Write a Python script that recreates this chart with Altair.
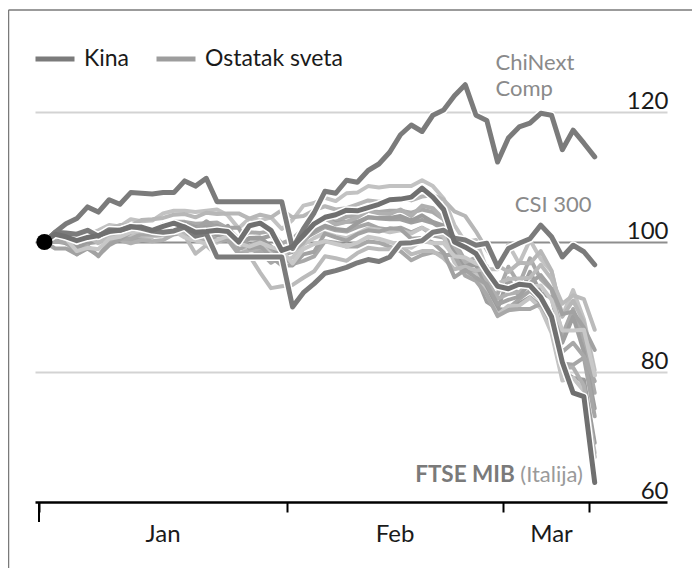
import altair as alt
import pandas as pd

# trading days (weekday index, 0 = 1 Jan 2020 base)
day = list(range(52))

chinext = [100, 101.5, 102.8, 103.6, 105.4, 104.6, 106.5, 105.8, 107.6, 107.5,
           107.4, 107.6, 107.6, 109.4, 108.6, 109.8, 106.2, 106.2, 106.2, 106.2,
           106.2, 106.2, 106.2, 99.0, 102.0, 104.5, 107.8, 107.5, 109.5, 109.2,
           111.0, 112.0, 113.8, 116.5, 118.0, 117.0, 119.5, 120.3, 122.5, 124.2,
           119.5, 118.7, 112.3, 116.0, 117.7, 118.3, 119.8, 119.5, 114.2, 117.2,
           115.2, 113.1]
csi300 = [100, 101.5, 101.4, 101.2, 101.8, 100.9, 101.9, 101.8, 102.4, 102.1,
          101.7, 101.5, 101.7, 102.3, 100.9, 101.3, 97.7, 97.7, 97.7, 97.7,
          97.7, 97.7, 97.7, 90.0, 92.2, 93.6, 95.2, 95.6, 96.1, 96.8,
          97.3, 97.0, 97.7, 99.8, 99.9, 100.2, 101.5, 101.8, 100.6, 100.3,
          99.5, 99.8, 96.2, 99.0, 99.8, 100.5, 102.6, 100.8, 97.7, 99.5,
          98.5, 96.5]
ftse_mib = [100, 101.2, 100.8, 100.2, 100.7, 101.0, 101.6, 101.8, 102.3, 102.3,
            101.8, 102.4, 102.9, 102.3, 101.5, 101.6, 101.8, 101.6, 100.0, 102.5,
            102.9, 101.8, 98.7, 99.3, 101.0, 102.8, 103.8, 104.2, 104.9, 104.8,
            105.3, 105.8, 106.5, 106.6, 106.9, 108.3, 106.9, 105.0, 100.0, 99.2,
            98.2, 95.5, 93.2, 92.8, 93.5, 93.3, 91.5, 88.5, 81.5, 76.8,
            76.2, 63.0]

nasdaq = [100, 101.3, 100.5, 101.1, 101.1, 101.8, 102.6, 102.4, 103.5, 103.2,
          103.3, 104.4, 104.8, 104.8, 104.6, 104.8, 105.0, 104.1, 102.1, 103.6,
          103.3, 103.8, 102.0, 103.4, 105.6, 106.0, 106.8, 106.3, 107.5, 107.6,
          108.6, 108.4, 108.6, 108.6, 108.6, 109.5, 108.6, 106.7, 102.6, 100.0,
          100.3, 95.8, 95.8, 99.6, 96.7, 100.3, 97.4, 95.5, 88.6, 92.6,
          88.1, 80.3]
sp500 = [100, 100.8, 100.1, 100.5, 100.2, 100.7, 101.4, 101.1, 101.8, 101.6,
         101.8, 102.7, 103.1, 103.1, 102.8, 102.9, 103.0, 102.1, 100.5, 101.5,
         101.4, 101.7, 99.8, 100.5, 102.0, 103.2, 103.6, 103.1, 103.9, 104.1,
         104.8, 104.6, 104.8, 104.8, 104.5, 105.0, 104.6, 103.5, 100.1, 97.1,
         96.7, 92.5, 92.0, 96.2, 93.5, 97.5, 94.3, 92.7, 85.7, 89.7,
         85.0, 76.8]
dow = [100, 100.9, 100.2, 100.5, 100.1, 100.7, 101.4, 100.9, 101.4, 101.5,
       101.8, 102.7, 102.9, 102.9, 102.3, 102.4, 102.5, 101.5, 99.9, 100.5,
       100.5, 101.0, 98.9, 99.7, 101.2, 102.9, 103.8, 102.9, 103.1, 103.1,
       103.8, 103.6, 103.5, 103.5, 103.0, 103.4, 102.9, 101.9, 98.4, 95.4,
       94.9, 90.8, 89.7, 94.4, 91.6, 95.4, 92.2, 91.4, 84.5, 88.5,
       83.1, 74.4]
asx200 = [100, 100.1, 100.7, 100.6, 101.6, 101.3, 102.0, 102.6, 102.5, 103.4,
          103.5, 103.7, 104.2, 104.3, 103.8, 104.5, 104.3, 104.4, 104.4, 103.6,
          104.2, 103.8, 104.9, 103.8, 104.0, 104.9, 105.5, 105.0, 105.2, 105.8,
          106.4, 106.2, 106.5, 106.8, 106.4, 107.0, 107.2, 106.5, 104.7, 104.0,
          101.6, 98.8, 96.4, 95.4, 96.8, 96.7, 98.6, 95.6, 88.5, 91.0,
          87.6, 79.5]
ftse100 = [100, 100.1, 99.8, 99.2, 99.8, 100.0, 100.8, 100.4, 100.0, 100.8,
           100.8, 101.6, 102.4, 101.9, 101.3, 101.9, 101.0, 101.2, 98.9, 99.4,
           100.2, 98.8, 97.7, 98.9, 100.5, 101.4, 102.3, 101.8, 101.6, 102.3,
           102.8, 102.1, 101.9, 102.2, 101.5, 102.2, 101.0, 100.7, 97.4, 95.6,
           95.2, 91.9, 88.9, 89.8, 91.2, 92.5, 91.0, 87.7, 81.3, 81.1,
           82.2, 73.2]
dax = [100, 101.0, 99.8, 99.1, 99.8, 100.5, 101.9, 101.8, 101.5, 101.6,
       101.4, 101.4, 102.1, 102.3, 102.3, 102.0, 101.1, 102.5, 99.7, 100.6,
       100.7, 99.3, 98.0, 98.5, 100.2, 101.7, 102.5, 102.0, 101.8, 102.9,
       103.8, 103.7, 103.7, 104.0, 103.3, 104.1, 103.1, 102.5, 98.4, 96.5,
       96.4, 93.3, 89.7, 89.5, 90.5, 91.5, 90.1, 87.1, 80.2, 79.1,
       78.8, 69.1]
cac40 = [100, 101.0, 101.1, 100.6, 100.6, 100.9, 101.1, 101.0, 101.0, 101.0,
         100.9, 101.0, 102.1, 101.7, 101.1, 101.3, 99.9, 100.8, 98.1, 99.1,
         99.6, 98.2, 97.1, 97.6, 99.6, 100.6, 101.4, 100.9, 100.6, 101.3,
         102.1, 101.9, 101.5, 101.8, 101.3, 102.2, 101.4, 100.9, 96.9, 95.0,
         95.0, 91.9, 88.8, 90.2, 90.2, 91.4, 89.8, 86.0, 78.7, 79.1,
         77.1, 67.6]
ibex35 = [100, 101.5, 101.0, 100.5, 100.3, 100.5, 101.0, 100.3, 99.8, 100.3,
          100.1, 100.3, 101.2, 101.3, 100.6, 100.4, 100.1, 100.3, 98.1, 98.7,
          98.8, 97.3, 98.1, 98.6, 99.9, 102.7, 103.6, 102.7, 103.1, 103.8,
          104.8, 104.4, 104.3, 105.0, 104.0, 105.6, 105.2, 103.5, 99.4, 96.9,
          97.6, 94.1, 91.3, 92.0, 92.3, 93.3, 90.9, 87.7, 80.7, 80.7,
          77.9, 66.9]
nikkei = [100, 100.0, 100.0, 98.1, 99.4, 97.8, 100.1, 100.5, 100.5, 101.2,
          101.1, 101.1, 101.2, 101.4, 100.5, 101.3, 100.3, 100.4, 98.3, 97.8,
          98.5, 96.8, 97.8, 96.6, 97.1, 97.8, 100.1, 99.9, 99.3, 99.3,
          100.1, 99.9, 99.3, 98.6, 97.2, 98.0, 98.4, 98.0, 98.0, 94.8,
          94.0, 91.9, 88.6, 89.5, 89.7, 89.7, 90.5, 87.7, 83.1, 84.5,
          82.4, 78.6]
hangseng = [100, 101.3, 100.9, 100.1, 100.9, 99.8, 101.1, 101.4, 102.5, 102.4,
            102.0, 102.3, 102.6, 101.0, 98.2, 99.5, 97.9, 97.9, 97.9, 97.9,
            95.3, 92.9, 93.2, 93.4, 94.5, 95.5, 97.8, 97.5, 97.1, 98.3,
            99.1, 98.9, 98.9, 99.5, 98.1, 98.6, 98.6, 97.5, 95.8, 96.2,
            95.6, 95.9, 93.6, 94.3, 94.4, 94.5, 96.5, 94.3, 90.5, 91.8,
            91.2, 86.5]
kospi = [100, 99.0, 99.0, 98.1, 99.0, 97.9, 99.5, 100.4, 101.5, 101.8,
         101.5, 102.3, 102.4, 102.9, 101.9, 103.2, 102.2, 102.2, 102.2, 99.0,
         99.4, 97.7, 96.4, 96.4, 98.1, 98.5, 101.3, 100.7, 100.2, 101.2,
         101.8, 101.6, 102.1, 102.0, 100.5, 100.6, 99.9, 98.4, 94.6, 95.7,
         94.5, 93.5, 90.4, 91.1, 91.6, 93.7, 94.9, 92.8, 88.9, 89.3,
         86.8, 83.4]
sensex = [100, 100.9, 100.5, 98.6, 99.1, 98.9, 100.5, 100.8, 101.5, 101.7,
          101.5, 101.6, 101.7, 100.7, 100.2, 99.7, 100.3, 100.9, 99.8, 99.3,
          99.9, 99.2, 98.7, 96.7, 98.9, 99.7, 100.1, 99.7, 99.3, 99.9,
          100.8, 100.5, 100.0, 99.5, 99.1, 100.2, 99.8, 99.8, 97.8, 97.6,
          96.7, 96.3, 92.8, 92.5, 93.6, 93.1, 93.3, 91.1, 86.4, 86.4,
          86.5, 79.5]

light_names = ["Nasdaq", "S&P 500", "Dow Jones", "ASX 200", "FTSE 100", "DAX",
               "CAC 40", "IBEX 35", "Nikkei 225", "Hang Seng", "Kospi", "Sensex"]
light_values = [nasdaq, sp500, dow, asx200, ftse100, dax, cac40, ibex35,
                nikkei, hangseng, kospi, sensex]
dark_names = ["CSI 300", "ChiNext Comp", "FTSE MIB"]
dark_values = [csi300, chinext, ftse_mib]

month_names = ["Jan", "Feb", "Mar"]
month_label_day = [11.0, 32.5, 47.0]
month_bounds = [-0.5, 22.5, 42.5, 50.5]
y_ticks = [60, 80, 100, 120]
legend_groups = ["Kina", "Ostatak sveta"]

# ---------------------------------------------------------------- styling
light_palette = ["#c2c2c2", "#aaaaaa", "#9f9f9f", "#b7b7b7", "#a6a6a6", "#9c9c9c",
                 "#c4c4c4", "#b0b0b0", "#a8a8a8", "#bbbbbb", "#a2a2a2", "#c8c8c8"]
dark_palette = {"CSI 300": "#7b7b7b", "ChiNext Comp": "#7b7b7b", "FTSE MIB": "#707070"}
W, H = 632, 455
FONT = "Lato"

rows = []
for name, vals in zip(light_names, light_values):
    for d, v in zip(day, vals):
        rows.append({"series": name, "day": d, "value": v})
for name, vals in zip(dark_names, dark_values):
    for d, v in zip(day, vals):
        rows.append({"series": name, "day": d, "value": v})
df = pd.DataFrame(rows)

xscale = alt.Scale(domain=[-0.871, 57.70], nice=False, zero=False)
yscale = alt.Scale(domain=[60, 130], nice=False, zero=False)

xaxis = alt.Axis(values=month_bounds, labels=False, ticks=True, tickSize=10,
                 tickWidth=2, tickColor="black", domainColor="black",
                 domainWidth=2.5, grid=False, title=None)
yaxis = alt.Axis(orient="right", values=y_ticks, grid=True,
                 gridColor={"condition": {"test": "datum.value === 100", "value": "#8e8e8e"},
                            "value": "#d3d3d3"},
                 gridOpacity={"condition": {"test": "datum.value === 60", "value": 0},
                              "value": 1},
                 gridWidth=2, domain=False, ticks=False, tickSize=0,
                 labelAlign="right", labelBaseline="alphabetic", labelPadding=1,
                 labelOffset=-4, labelFont=FONT, labelFontSize=24,
                 labelColor="#1a1a1a", title=None)

x_enc = alt.X("day:Q", scale=xscale, axis=xaxis)
y_enc = alt.Y("value:Q", scale=yscale, axis=yaxis)

one = pd.DataFrame({"k": [0]})
border_top = alt.Chart(one).mark_rule(color="#7a7a7a", strokeWidth=1.5).encode(
    x=alt.value(-26.5), x2=alt.value(W + 25), y=alt.value(-37))
border_left = alt.Chart(one).mark_rule(color="#7a7a7a", strokeWidth=1.5).encode(
    x=alt.value(-26.5), y=alt.value(-37), y2=alt.value(H + 66))

light = alt.Chart(df).transform_filter(
    alt.FieldOneOfPredicate(field="series", oneOf=light_names)
).mark_line(strokeWidth=4, strokeJoin="round", strokeCap="round").encode(
    x=x_enc, y=y_enc,
    color=alt.Color("series:N", scale=alt.Scale(domain=light_names, range=light_palette),
                    legend=None))

halo = alt.Chart(df).transform_filter(
    alt.FieldOneOfPredicate(field="series", oneOf=dark_names)
).mark_line(strokeWidth=8, color="white", strokeJoin="round").encode(
    x=x_enc, y=y_enc, detail="series:N")

dark_layers = []
for name in dark_names:
    dark_layers.append(
        alt.Chart(df).transform_filter(alt.datum.series == name)
        .mark_line(strokeWidth=5, color=dark_palette[name], strokeJoin="round",
                   strokeCap="round")
        .encode(x=x_enc, y=y_enc))

dot = alt.Chart(df).transform_filter(
    (alt.datum.day == 0) & (alt.datum.series == "FTSE MIB")
).mark_circle(size=260, color="black", opacity=1).encode(x=x_enc, y=y_enc)

ann_gray = pd.DataFrame({"label": ["ChiNext", "Comp", "CSI 300"],
                         "day": [41.8, 41.8, 43.6], "value": [126.4, 122.4, 104.6]})
ann_ftse = pd.DataFrame({"label": ["FTSE MIB"], "day": [43.6], "value": [63.1]})
ann_ita = pd.DataFrame({"label": ["(Italija)"], "day": [44.1], "value": [63.1]})

t_gray = alt.Chart(ann_gray).mark_text(align="left", baseline="alphabetic", font=FONT,
                                       fontSize=22, color="#8a8a8a").encode(
    x=x_enc, y=y_enc, text="label:N")
t_ftse = alt.Chart(ann_ftse).mark_text(align="right", baseline="alphabetic", font=FONT,
                                       fontSize=22.5, fontWeight="bold",
                                       color="#7a7a7a").encode(
    x=x_enc, y=y_enc, text="label:N")
t_ita = alt.Chart(ann_ita).mark_text(align="left", baseline="alphabetic", font=FONT,
                                     fontSize=22, color="#9a9a9a").encode(
    x=x_enc, y=y_enc, text="label:N")

months = pd.DataFrame({"month": month_names, "day": month_label_day})
t_months = alt.Chart(months).mark_text(align="center", baseline="alphabetic", font=FONT,
                                       fontSize=24, color="#1a1a1a").encode(
    x=x_enc, y=alt.value(H + 40), text="month:N")

first_tick = alt.Chart(pd.DataFrame({"day": [month_bounds[0]]})).mark_rule(
    color="black", strokeWidth=2).encode(x=x_enc, y=alt.value(H), y2=alt.value(H + 20))

legend_layer = alt.Chart(pd.DataFrame({"group": legend_groups, "day": [0, 0],
                                       "value": [100, 100]})).mark_line(opacity=0).encode(
    x=x_enc, y=y_enc,
    stroke=alt.Stroke("group:N",
                      scale=alt.Scale(domain=legend_groups, range=["#7b7b7b", "#9d9d9d"]),
                      legend=alt.Legend(orient="none", legendX=-2, legendY=-10,
                                        direction="horizontal", symbolType="stroke",
                                        symbolStrokeWidth=5, symbolSize=1521,
                                        symbolOpacity=1, labelFont=FONT,
                                        labelFontSize=23, labelColor="#1a1a1a",
                                        labelOffset=7, columnPadding=16, padding=0,
                                        labelLimit=0, title=None)))

chart = alt.layer(
    border_top, border_left, light, halo, *dark_layers, dot,
    t_gray, t_ftse, t_ita, t_months, first_tick, legend_layer
).properties(
    width=W, height=H,
    padding={"left": 27, "top": 39, "right": 25, "bottom": 66},
    autosize=alt.AutoSizeParams(type="none"),
).configure_view(stroke=None)

chart.save("out.html", embed_options={"renderer": "svg", "actions": False})
